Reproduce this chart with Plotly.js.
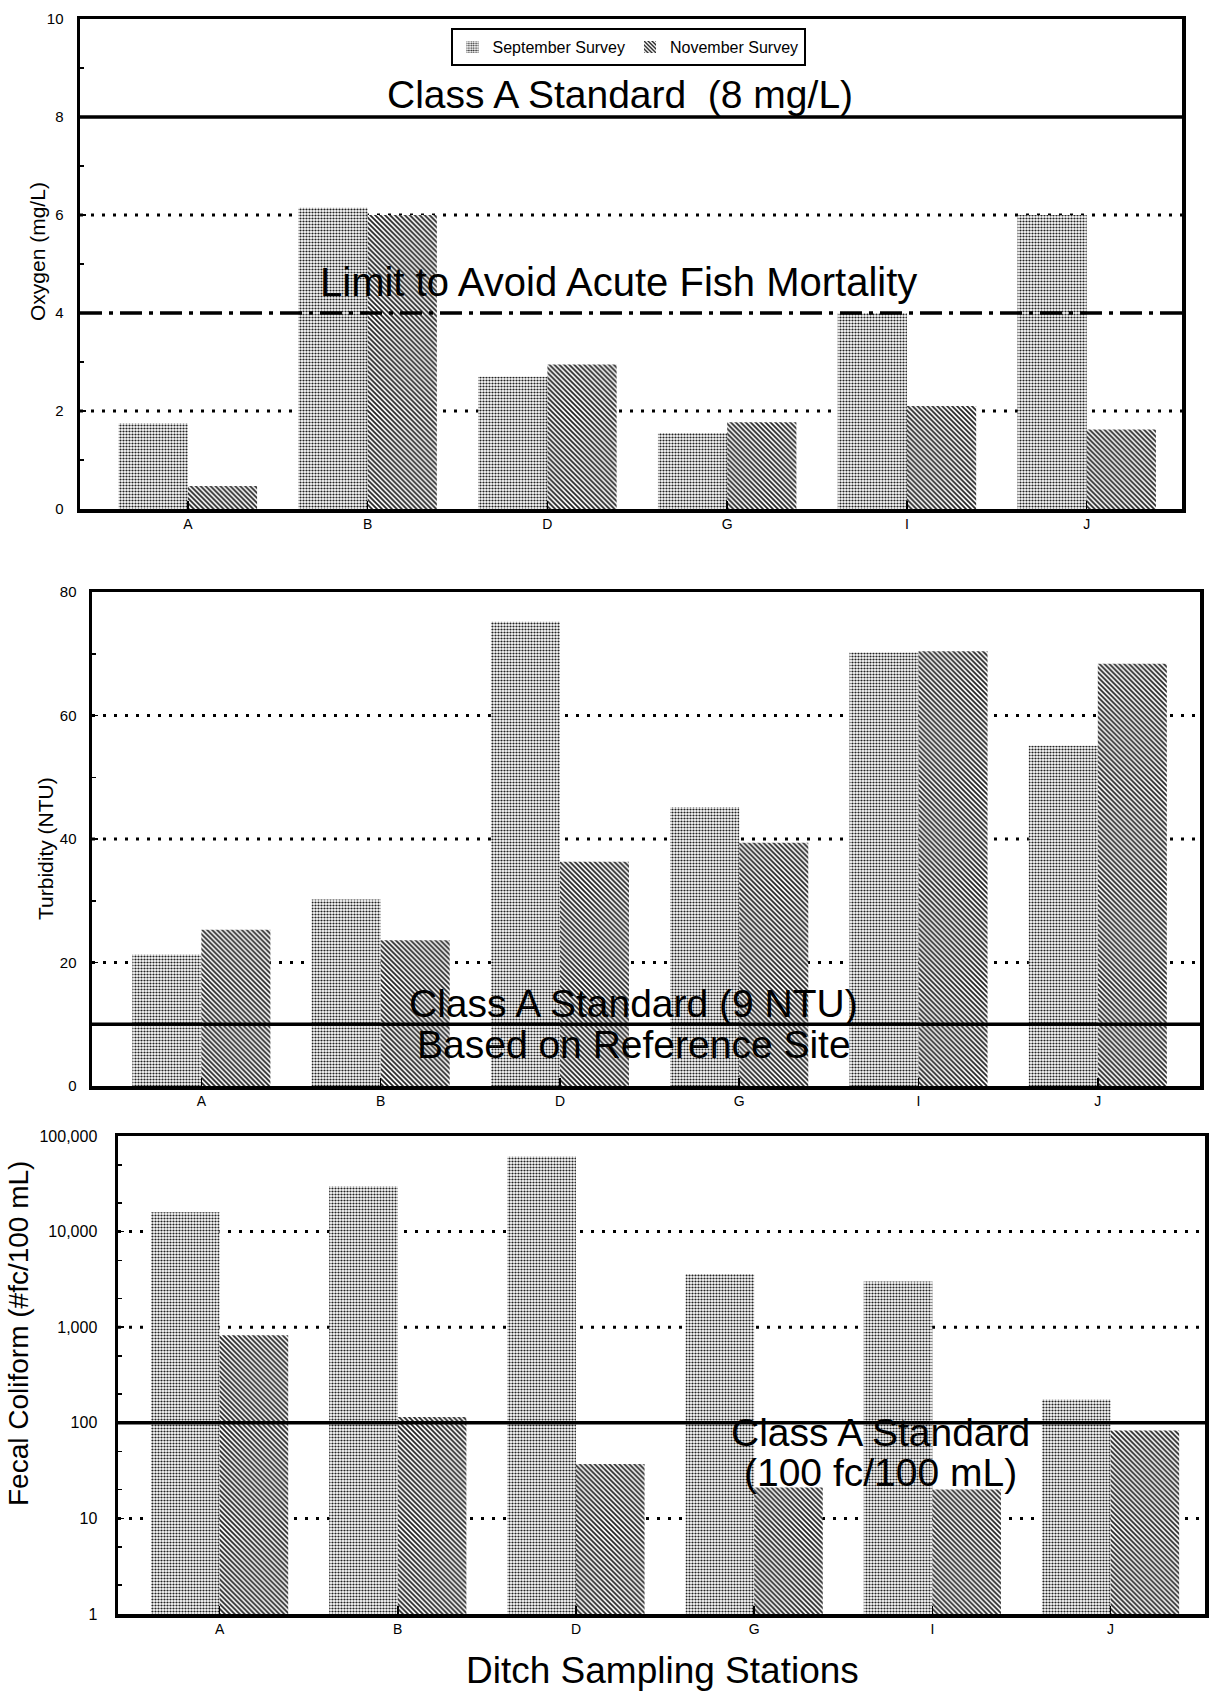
<!DOCTYPE html>
<html>
<head>
<meta charset="utf-8">
<script src="https://cdn.plot.ly/plotly-3.0.1.min.js"></script>
<style>html,body{margin:0;padding:0;background:#fff}#chart{width:1212px;height:1705px}</style>
</head>
<body>
<div id="chart"></div>
<script>
// ---- data ----
var stations = ['A', 'B', 'D', 'G', 'I', 'J'];
var seriesNames = ['September Survey', 'November Survey'];

var oxygenSep = [1.75, 6.15, 2.7, 1.55, 4.0, 6.0];
var oxygenNov = [0.47, 6.0, 2.95, 1.77, 2.1, 1.62];

var turbiditySep = [21.3, 30.2, 75.2, 45.2, 70.2, 55.1];
var turbidityNov = [25.3, 23.6, 36.3, 39.4, 70.4, 68.4];

var coliformSep = [15900, 29900, 61200, 3600, 3000, 175];
var coliformNov = [825, 115, 37, 21, 20, 83];

var oxygenGrid = [2, 6];
var oxygenStandard = 8;
var oxygenFishLimit = 4;
var turbidityGrid = [20, 40, 60];
var turbidityStandard = 10;
var coliformGrid = [10, 1000, 10000];
var coliformStandard = 100;

var oxygenTicks = [0, 2, 4, 6, 8, 10];
var turbidityTicks = [0, 20, 40, 60, 80];
var coliformTickVals = [1, 10, 100, 1000, 10000, 100000];
var coliformTickText = ['1', '10', '100', '1,000', '10,000', '100,000'];

// ---- styles ----
var FONT = 'Liberation Sans, Arial, Helvetica, sans-serif';
var sepMarker = {
  color: '#ffffff',
  line: {width: 0},
  pattern: {shape: '.', fgcolor: '#222222', bgcolor: '#ffffff', size: 3, solidity: 0.42}
};
var novMarker = {
  color: '#ffffff',
  line: {width: 0},
  pattern: {shape: '\\', fgcolor: '#222222', bgcolor: '#ffffff', size: 3.5, solidity: 0.5}
};

function barTrace(vals, idx, xa, ya, show) {
  return {
    type: 'bar', x: stations, y: vals, name: seriesNames[idx],
    xaxis: xa, yaxis: ya, showlegend: show,
    marker: idx === 0 ? sepMarker : novMarker,
    hoverinfo: 'skip'
  };
}

var traces = [
  barTrace(oxygenSep, 0, 'x', 'y', true),
  barTrace(oxygenNov, 1, 'x', 'y', true),
  barTrace(turbiditySep, 0, 'x2', 'y2', false),
  barTrace(turbidityNov, 1, 'x2', 'y2', false),
  barTrace(coliformSep, 0, 'x3', 'y3', false),
  barTrace(coliformNov, 1, 'x3', 'y3', false)
];

var shapes = [];
function hline(yref, xref, val, dash, width, layer) {
  shapes.push({
    type: 'line', xref: xref + ' domain', yref: yref, x0: 0, x1: 1, y0: val, y1: val,
    line: {color: '#000', width: width, dash: dash}, layer: layer
  });
}
var DOT = '3px,8px';
oxygenGrid.forEach(function (v) { hline('y', 'x', v, DOT, 3, 'below'); });
turbidityGrid.forEach(function (v) { hline('y2', 'x2', v, DOT, 3, 'below'); });
coliformGrid.forEach(function (v) { hline('y3', 'x3', v, DOT, 3, 'below'); });
hline('y', 'x', oxygenStandard, 'solid', 3.5, 'above');
hline('y', 'x', oxygenFishLimit, '22px,7px,4px,7px', 3.5, 'above');
hline('y2', 'x2', turbidityStandard, 'solid', 3.5, 'above');
hline('y3', 'x3', coliformStandard, 'solid', 3.5, 'above');

function px(x) { return x / 1212; }
function py(y) { return 1 - y / 1705; }

function note(text, x, y, size, angle) {
  return {
    text: text, xref: 'paper', yref: 'paper', x: px(x), y: py(y),
    xanchor: 'center', yanchor: 'middle', showarrow: false,
    textangle: angle || 0,
    font: {family: FONT, size: size, color: '#000'}
  };
}

var annotations = [
  note('Class A Standard  (8 mg/L)', 620, 95, 39),
  note('Limit to Avoid Acute Fish Mortality', 618, 282, 40),
  note('Class A Standard (9 NTU)', 634, 1003, 39),
  note('Based on Reference Site', 634, 1044, 39),
  note('Class A Standard', 880, 1432, 39),
  note('(100 fc/100 mL)', 880, 1472, 39),
  note('Ditch Sampling Stations', 662, 1670, 37),
  note('Oxygen (mg/L)', 37, 252, 21, -90),
  note('Turbidity (NTU)', 45, 849, 21, -90),
  note('Fecal Coliform (#fc/100 mL)', 18, 1334, 28, -90)
];

function xax(domain, anchor, range) {
  return {
    domain: domain, anchor: anchor, type: 'category', range: range,
    showline: true, mirror: true, linecolor: '#000', linewidth: 3.5,
    ticks: 'inside', ticklen: 8, tickwidth: 1.5, tickcolor: '#000',
    showgrid: false, zeroline: false,
    tickfont: {family: FONT, size: 14, color: '#000'}
  };
}
function yax(domain, anchor, extra) {
  var a = {
    domain: domain, anchor: anchor,
    showline: true, mirror: true, linecolor: '#000', linewidth: 3.5,
    ticks: 'inside', ticklen: 6, tickwidth: 1.5, tickcolor: '#000',
    showgrid: false, zeroline: false,
    tickfont: {family: FONT, size: 15, color: '#000'}
  };
  for (var k in extra) a[k] = extra[k];
  return a;
}

var layout = {
  width: 1212, height: 1705,
  margin: {l: 0, r: 0, t: 0, b: 0},
  paper_bgcolor: '#fff', plot_bgcolor: '#fff',
  barmode: 'group', bargap: 0.23, bargroupgap: 0,
  font: {family: FONT, color: '#000'},
  showlegend: true,
  legend: {
    orientation: 'h', x: px(628), y: py(28), xanchor: 'center', yanchor: 'top',
    bgcolor: '#fff', bordercolor: '#000', borderwidth: 2,
    font: {family: FONT, size: 16, color: '#000'},
    itemwidth: 30, traceorder: 'normal'
  },
  xaxis: xax([px(80), px(1182)], 'y', [-0.6, 5.53]),
  yaxis: yax([py(509), py(19)], 'x', {
    range: [0, 10], tickvals: oxygenTicks, ticklabelstandoff: 10,
    minor: {dtick: 1, ticks: 'inside', ticklen: 4, tickcolor: '#000', showgrid: false}
  }),
  xaxis2: xax([px(92), px(1200)], 'y2', [-0.61, 5.57]),
  yaxis2: yax([py(1086), py(592)], 'x2', {
    range: [0, 80], tickvals: turbidityTicks, ticklabelstandoff: 9,
    minor: {dtick: 10, ticks: 'inside', ticklen: 4, tickcolor: '#000', showgrid: false}
  }),
  xaxis3: xax([px(118), px(1205)], 'y3', [-0.57, 5.53]),
  yaxis3: yax([py(1614), py(1136)], 'x3', {
    type: 'log', range: [0, 5], tickvals: coliformTickVals, ticktext: coliformTickText,
    ticklabelstandoff: 14,
    tickfont: {family: FONT, size: 16, color: '#000'},
    minor: {ticks: 'inside', ticklen: 4, tickcolor: '#000', showgrid: false}
  }),
  shapes: shapes,
  annotations: annotations
};

Plotly.newPlot('chart', traces, layout, {displayModeBar: false, staticPlot: true});
</script>
</body>
</html>
